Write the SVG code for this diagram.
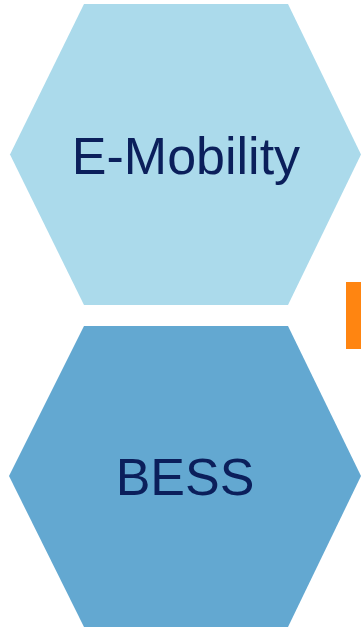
<svg xmlns="http://www.w3.org/2000/svg" width="361" height="627" viewBox="0 0 361 627">
<style>
.lbl{font-family:"Liberation Sans",Arial,sans-serif;font-size:52px;fill:#0B1F5B;text-anchor:middle}
</style>
<rect width="361" height="627" fill="#FFFFFF"/>
<g id="e-mobility">
<polygon points="84,4 288,4 361,154.5 288,305 84,305 10,154.5" fill="#ABDAEB"/>
<text class="lbl" x="186" y="174">E-Mobility</text>
</g>
<g id="bess">
<polygon points="84,326 288,326 361,476 288,627 84,627 9,476" fill="#63A8D1"/>
<text class="lbl" x="185" y="495">BESS</text>
</g>
<g id="accent">
<rect x="346" y="282" width="15" height="67" fill="#FF8511"/>
</g>
<g id="connectors"></g>
</svg>
